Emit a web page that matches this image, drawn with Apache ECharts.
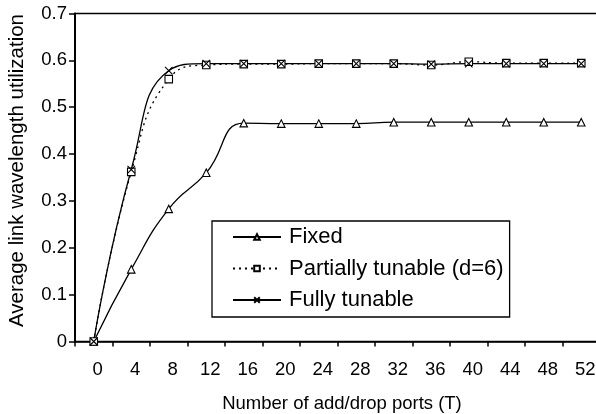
<!DOCTYPE html>
<html>
<head>
<meta charset="utf-8">
<script src="https://cdn.jsdelivr.net/npm/echarts@6/dist/echarts.min.js"></script>
<style>
  html, body { margin: 0; padding: 0; background: #fff; }
  #chart { width: 596px; height: 414px; }
</style>
</head>
<body>
<div id="chart"></div>
<script>
// Number of add/drop ports per node
const ports = ['0', '4', '8', '12', '16', '20', '24', '28', '32', '36', '40', '44', '48', '52'];

// Average link wavelength utilization for each transceiver type
const fixedUtil = [0, 0.154, 0.283, 0.360, 0.466, 0.465, 0.465, 0.465, 0.468, 0.468, 0.468, 0.468, 0.468, 0.468];
const partialUtil = [0, 0.362, 0.560, 0.590, 0.592, 0.592, 0.593, 0.593, 0.593, 0.590, 0.597, 0.594, 0.594, 0.594];
const fullUtil = [0, 0.367, 0.578, 0.593, 0.593, 0.593, 0.593, 0.593, 0.593, 0.592, 0.593, 0.593, 0.593, 0.593];

const seriesNames = ['Fixed', 'Partially tunable (d=6)', 'Fully tunable'];
const yTicks = [0, 0.1, 0.2, 0.3, 0.4, 0.5, 0.6, 0.7];

const FONT = 'Liberation Sans, Arial, sans-serif';
const crossPath = 'path://M0,0L10,10M10,0L0,10';

const chart = echarts.init(document.getElementById('chart'), null, { renderer: 'canvas' });

function lineSeries(name, data, symbol, dashed) {
  return {
    name: name,
    type: 'line',
    data: data,
    smooth: 0.5,
    symbol: symbol,
    symbolSize: 7.5,
    showAllSymbol: true,
    animation: false,
    lineStyle: { color: '#000', width: 1.3, type: dashed ? [2, 4] : 'solid' },
    itemStyle: { color: '#fff', borderColor: '#000', borderWidth: 1.1 },
    emphasis: { disabled: true }
  };
}

chart.setOption({
  backgroundColor: '#fff',
  animation: false,
  grid: {
    left: 75, top: 13.5, width: 525, height: 328,
    containLabel: false, outerBoundsMode: 'none',
    show: true, borderColor: '#000', borderWidth: 1.5, backgroundColor: 'transparent'
  },
  legend: {
    left: 212, top: 221,
    orient: 'vertical',
    data: seriesNames,
    itemWidth: 48, itemHeight: 7, itemGap: 7.5,
    padding: [4, 6, 5, 20],
    borderColor: '#000', borderWidth: 1.3,
    backgroundColor: '#fff',
    selectedMode: false,
    textStyle: { fontFamily: FONT, fontSize: 22, color: '#000', lineHeight: 24, padding: [0, 0, 0, 3] }
  },
  xAxis: {
    type: 'category',
    data: ports,
    boundaryGap: true,
    name: 'Number of add/drop ports (T)',
    nameLocation: 'middle',
    nameGap: 53,
    nameTextStyle: { fontFamily: FONT, fontSize: 18.5, color: '#000', padding: [0, 0, 0, 9] },
    axisLine: { lineStyle: { color: '#000', width: 1.5 } },
    axisTick: { show: true, inside: false, length: 5, alignWithLabel: false, lineStyle: { color: '#000', width: 1.5 } },
    axisLabel: { fontFamily: FONT, fontSize: 18.5, color: '#000', margin: 19, interval: 0, padding: [0, 0, 0, 8] },
    splitLine: { show: false }
  },
  yAxis: {
    type: 'value',
    min: yTicks[0], max: yTicks[yTicks.length - 1], interval: 0.1,
    name: 'Average link wavelength utilization',
    nameLocation: 'middle',
    nameGap: 47,
    nameTextStyle: { fontFamily: FONT, fontSize: 20.5, color: '#000', padding: [0, 0, 0, 14] },
    axisLine: { show: true, lineStyle: { color: '#000', width: 2 } },
    axisTick: { show: true, inside: false, length: 6, lineStyle: { color: '#000', width: 1.5 } },
    axisLabel: {
      fontFamily: FONT, fontSize: 18.5, color: '#000', margin: 8,
      formatter: function (v) { return v === 0 ? '0' : v.toFixed(1); }
    },
    splitLine: { show: false }
  },
  series: [
    lineSeries(seriesNames[0], fixedUtil, 'triangle', false),
    lineSeries(seriesNames[1], partialUtil, 'rect', true),
    lineSeries(seriesNames[2], fullUtil, crossPath, false)
  ]
});
</script>
</body>
</html>
